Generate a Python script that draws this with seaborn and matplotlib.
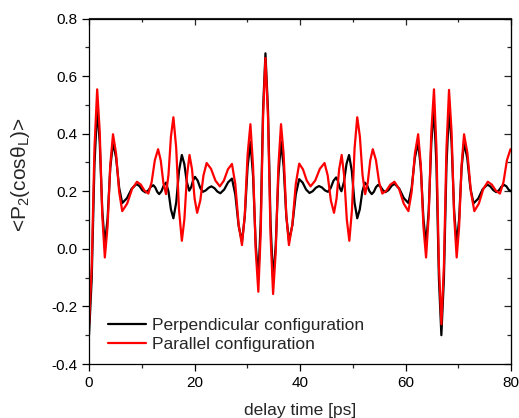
import numpy as np
import pandas as pd
import matplotlib
matplotlib.use("Agg")
import matplotlib.pyplot as plt
import seaborn as sns

# delay time [ps] and <P2(cos theta_L)>
perp_t = [0.0, 0.517, 1.033, 1.55, 2.033, 2.517, 3.0, 3.517, 4.033, 4.55, 5.133, 5.717, 6.3,
          7.2, 8.1, 9.0, 9.567, 10.133, 10.7, 11.2, 11.7, 12.2, 12.567, 12.933, 13.3,
          13.733, 14.167, 14.6, 15.067, 15.533, 16.0, 16.533, 17.067, 17.6, 18.067, 18.533, 19.0,
          19.367, 19.733, 20.1, 20.6, 21.1, 21.6, 22.133, 22.667, 23.2, 23.767, 24.333, 24.9,
          25.633, 26.367, 27.1, 27.733, 28.367, 29.0, 29.533, 30.067, 30.6, 31.1, 31.6, 32.1,
          32.55, 33.0, 33.45, 33.933, 34.417, 34.9, 35.4, 35.9, 36.4, 36.9, 37.4, 37.9,
          38.55, 39.2, 39.85, 40.5, 41.15, 41.8, 42.4, 43.0, 43.6, 44.167, 44.733, 45.3,
          45.817, 46.333, 46.85, 47.183, 47.517, 47.85, 48.333, 48.817, 49.3, 49.817, 50.333, 50.85,
          51.333, 51.817, 52.3, 52.733, 53.167, 53.6, 54.0, 54.4, 54.8, 55.267, 55.733, 56.2,
          56.783, 57.367, 57.95, 58.817, 59.683, 60.55, 61.167, 61.783, 62.4, 62.9, 63.4, 63.9,
          64.4, 64.9, 65.4, 65.867, 66.333, 66.8, 67.283, 67.767, 68.25, 68.733, 69.217, 69.7,
          70.167, 70.633, 71.1, 71.7, 72.3, 72.9, 73.767, 74.633, 75.5, 76.067, 76.633, 77.2,
          77.7, 78.2, 78.7, 79.133, 79.567, 80.0]
perp_v = [-0.30, -0.103, 0.291, 0.488, 0.370, 0.133, 0.015, 0.104, 0.281, 0.369, 0.317, 0.212, 0.159,
          0.176, 0.209, 0.225, 0.218, 0.203, 0.196, 0.202, 0.215, 0.221, 0.213, 0.198, 0.19,
          0.2, 0.22, 0.23, 0.199, 0.137, 0.106, 0.161, 0.271, 0.326, 0.295, 0.233, 0.202,
          0.214, 0.238, 0.25, 0.237, 0.211, 0.198, 0.203, 0.212, 0.217, 0.211, 0.199, 0.193,
          0.206, 0.231, 0.244, 0.189, 0.080, 0.025, 0.112, 0.285, 0.372, 0.254, 0.016, -0.102,
          0.093, 0.484, 0.679, 0.482, 0.089, -0.108, 0.012, 0.252, 0.372, 0.286, 0.114, 0.028,
          0.082, 0.189, 0.242, 0.23, 0.206, 0.194, 0.2, 0.212, 0.218, 0.213, 0.203, 0.198,
          0.211, 0.236, 0.248, 0.236, 0.212, 0.2, 0.232, 0.295, 0.326, 0.271, 0.161, 0.106,
          0.137, 0.199, 0.23, 0.22, 0.2, 0.19, 0.198, 0.214, 0.222, 0.216, 0.203, 0.197,
          0.204, 0.219, 0.226, 0.209, 0.176, 0.159, 0.212, 0.317, 0.369, 0.281, 0.104, 0.015,
          0.133, 0.370, 0.488, 0.291, -0.103, -0.30, -0.103, 0.29, 0.487, 0.369, 0.133, 0.015,
          0.104, 0.281, 0.369, 0.316, 0.211, 0.158, 0.174, 0.207, 0.223, 0.217, 0.204, 0.197,
          0.203, 0.216, 0.222, 0.217, 0.205, 0.20]

para_t = [0.0, 0.517, 1.033, 1.55, 2.033, 2.517, 3.0, 3.517, 4.033, 4.55, 5.133, 5.717, 6.3,
          7.233, 8.167, 9.1, 9.817, 10.533, 11.25, 11.867, 12.483, 13.1, 13.6, 14.1, 14.6,
          15.067, 15.533, 16.0, 16.533, 17.067, 17.6, 18.083, 18.567, 19.05, 19.533, 20.017, 20.5,
          21.1, 21.7, 22.3, 23.133, 23.967, 24.8, 25.567, 26.333, 27.1, 27.733, 28.367, 29.0,
          29.533, 30.067, 30.6, 31.1, 31.6, 32.1, 32.55, 33.0, 33.45, 33.933, 34.417, 34.9,
          35.4, 35.9, 36.4, 36.9, 37.4, 37.9, 38.55, 39.2, 39.85, 40.567, 41.283, 42.0,
          42.883, 43.767, 44.65, 45.25, 45.85, 46.45, 46.933, 47.417, 47.9, 48.383, 48.867, 49.35,
          49.85, 50.35, 50.85, 51.35, 51.85, 52.35, 52.833, 53.317, 53.8, 54.4, 55.0, 55.6,
          56.367, 57.133, 57.9, 58.783, 59.667, 60.55, 61.167, 61.783, 62.4, 62.9, 63.4, 63.9,
          64.4, 64.9, 65.4, 65.867, 66.333, 66.8, 67.283, 67.767, 68.25, 68.733, 69.217, 69.7,
          70.167, 70.633, 71.1, 71.75, 72.4, 73.05, 73.9, 74.75, 75.6, 76.367, 77.133, 77.9,
          78.567, 79.233, 79.9, 80.0]
para_v = [-0.265, -0.060, 0.349, 0.554, 0.408, 0.116, -0.03, 0.077, 0.291, 0.398, 0.331, 0.198, 0.131,
          0.157, 0.208, 0.233, 0.223, 0.202, 0.192, 0.231, 0.308, 0.346, 0.307, 0.229, 0.19,
          0.257, 0.39, 0.457, 0.35, 0.135, 0.028, 0.103, 0.252, 0.326, 0.276, 0.175, 0.125,
          0.168, 0.255, 0.298, 0.278, 0.237, 0.217, 0.237, 0.276, 0.295, 0.225, 0.084, 0.013,
          0.118, 0.328, 0.433, 0.288, -0.004, -0.149, 0.054, 0.46, 0.663, 0.458, 0.048, -0.157,
          -0.01, 0.286, 0.433, 0.328, 0.118, 0.013, 0.084, 0.225, 0.296, 0.276, 0.237, 0.217,
          0.237, 0.278, 0.298, 0.255, 0.168, 0.125, 0.175, 0.276, 0.326, 0.252, 0.103, 0.028,
          0.135, 0.35, 0.457, 0.39, 0.257, 0.19, 0.229, 0.307, 0.346, 0.308, 0.231, 0.192,
          0.202, 0.223, 0.233, 0.208, 0.157, 0.131, 0.198, 0.331, 0.398, 0.291, 0.077, -0.03,
          0.116, 0.408, 0.554, 0.35, -0.058, -0.262, -0.059, 0.349, 0.552, 0.407, 0.116, -0.03,
          0.077, 0.291, 0.398, 0.331, 0.198, 0.131, 0.157, 0.208, 0.233, 0.223, 0.202, 0.192,
          0.231, 0.308, 0.346, 0.345]

series_names = ["Perpendicular configuration", "Parallel configuration"]
series_colors = ["#000000", "#ff0000"]
x_ticks = [0, 20, 40, 60, 80]
x_minor = [10, 30, 50, 70]
y_ticks = [-0.4, -0.2, 0.0, 0.2, 0.4, 0.6, 0.8]
y_minor = [-0.3, -0.1, 0.1, 0.3, 0.5, 0.7]
y_ticklabels = ["-0.4", "-0.2", "0.0", "0.2", "0.4", "0.6", "0.8"]
x_ticklabels = ["0", "20", "40", "60", "80"]

df = pd.concat([
    pd.DataFrame({"t": perp_t, "P2": perp_v, "config": series_names[0]}),
    pd.DataFrame({"t": para_t, "P2": para_v, "config": series_names[1]}),
], ignore_index=True)

sns.set_style("ticks")
plt.rcParams["font.family"] = ["Liberation Sans", "DejaVu Sans"]
plt.rcParams["mathtext.fontset"] = "custom"
plt.rcParams["mathtext.rm"] = "Liberation Sans"
plt.rcParams["mathtext.it"] = "Liberation Sans"
plt.rcParams["mathtext.default"] = "regular"
plt.rcParams["axes.unicode_minus"] = False

fig = plt.figure(figsize=(5.19, 4.18), dpi=100)
ax = fig.add_axes([89/519, 1 - 364/418, (511-89)/519, (364-18.5)/418])

sns.lineplot(data=df, x="t", y="P2", hue="config", hue_order=series_names,
             palette=series_colors, estimator=None, sort=False, linewidth=1.6, ax=ax)
for ln in ax.get_lines():
    ln.set_solid_joinstyle("round")
    ln.set_solid_capstyle("round")

ax.set_xlim(0, 80)
ax.set_ylim(-0.4, 0.8)
ax.set_xticks(x_ticks)
ax.set_xticklabels(x_ticklabels)
ax.set_xticks(x_minor, minor=True)
ax.set_yticks(y_ticks)
ax.set_yticklabels(y_ticklabels)
ax.set_yticks(y_minor, minor=True)
ax.tick_params(which="major", direction="out", length=4.8, width=0.9, labelsize=11, colors="black")
ax.tick_params(which="minor", direction="out", length=2.7, width=0.9)

for s in ax.spines.values():
    s.set_visible(True)
    s.set_linewidth(0.9)
    s.set_color("black")

secx = ax.secondary_xaxis("top")
secx.set_xticks(x_ticks)
secx.set_xticks(x_minor, minor=True)
secx.tick_params(which="major", direction="in", length=4.8, width=0.9, labeltop=False)
secx.tick_params(which="minor", direction="in", length=2.7, width=0.9)
secy = ax.secondary_yaxis("right")
secy.set_yticks(y_ticks)
secy.set_yticks(y_minor, minor=True)
secy.tick_params(which="major", direction="in", length=4.8, width=0.9, labelright=False)
secy.tick_params(which="minor", direction="in", length=2.7, width=0.9)

ax.set_xlabel("delay time [ps]", fontsize=12.5, labelpad=10)
ax.set_ylabel(r"<P$_{2}$(cos$\theta_{L}$)>", fontsize=15)
ax.yaxis.set_label_coords(-0.135, 0.547)

handles, labels = ax.get_legend_handles_labels()
for h in handles:
    h.set_linewidth(1.6)
ax.legend(handles, labels, loc="lower left", bbox_to_anchor=(0.045, 0.035), frameon=False,
          fontsize=12.5, handlelength=2.2, handletextpad=0.35, labelspacing=0.2,
          borderpad=0, borderaxespad=0)

fig.savefig("out.png", dpi=100)
